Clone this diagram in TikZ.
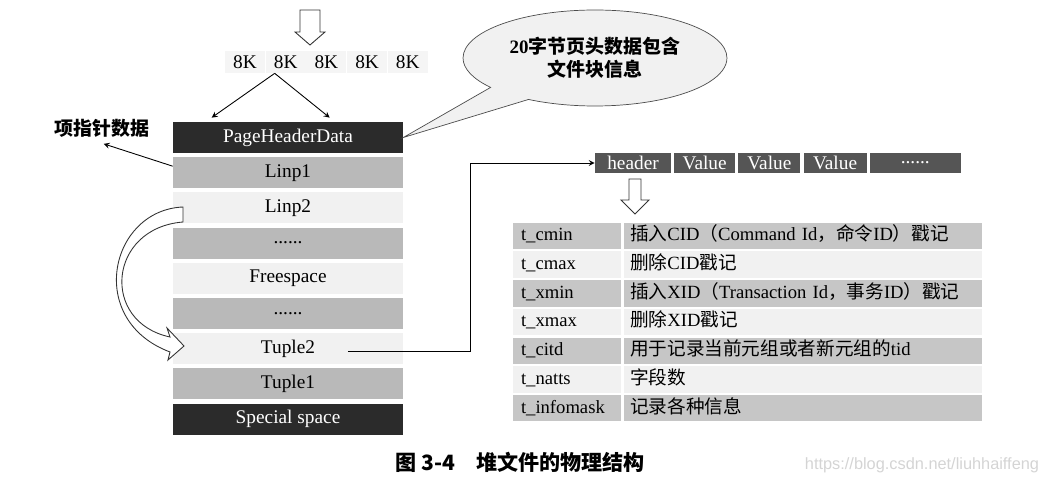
\documentclass[tikz,border=0pt]{standalone}
\usepackage{fontspec}
\setmainfont{Liberation Serif}
\setsansfont{Liberation Sans}
\newfontfamily\cjk{Noto Sans CJK SC}
\usetikzlibrary{positioning, shapes.callouts, arrows}

\definecolor{darkfill}{HTML}{2B2B2B}
\definecolor{grayfill}{HTML}{B9B9B9}
\definecolor{lightfill}{HTML}{F1F1F1}
\definecolor{valuefill}{HTML}{555555}
\definecolor{tablegray}{HTML}{C6C6C6}
\definecolor{marktext}{HTML}{D4D4D4}

\newcommand{\zh}[1]{{\cjk #1}}

\tikzstyle{row} = [rectangle, minimum width=4.6cm, minimum height=0.62cm, inner sep=0pt, text centered, font=\fontsize{11pt}{13pt}\selectfont]
\tikzstyle{darkrow} = [row, fill=darkfill, text=white]
\tikzstyle{grayrow} = [row, fill=grayfill]
\tikzstyle{lightrow} = [row, fill=lightfill]
\tikzstyle{kblock} = [rectangle, minimum width=0.8cm, minimum height=0.44cm, inner sep=0pt, fill=gray!8, font=\fontsize{11pt}{13pt}\selectfont]
\tikzstyle{valbox} = [rectangle, minimum height=0.4cm, inner sep=0pt, fill=valuefill, text=white, font=\fontsize{11pt}{13pt}\selectfont]
\tikzstyle{cell} = [rectangle, minimum height=0.53cm, inner ysep=0pt, align=left, text height=8pt, text depth=2.5pt, font=\fontsize{10.6pt}{13pt}\selectfont]
\tikzstyle{keycell} = [cell, text width=1.84cm, inner xsep=0.16cm]
\tikzstyle{desccell} = [cell, text width=6.9cm, inner xsep=0.13cm]
\tikzstyle{arrow} = [->, >=stealth, line width=0.5pt]
\tikzstyle{hollow} = [draw=black!80, fill=white, line width=0.5pt, line join=miter]

\begin{document}
\begin{tikzpicture}[x=0.02cm, y=-0.02cm]
\path[use as bounding box] (0,0) rectangle (1044,482);

% Page layout
\node (phd) [darkrow] at (288,137.5) {PageHeaderData};
\node (linp1) [grayrow, below=0.07cm of phd] {Linp1};
\node (linp2) [lightrow, below=0.07cm of linp1] {Linp2};
\node (dots1) [grayrow, below=0.07cm of linp2] {......};
\node (free) [lightrow, below=0.07cm of dots1] {Freespace};
\node (dots2) [grayrow, below=0.07cm of free] {......};
\node (tuple2) [lightrow, below=0.07cm of dots2] {Tuple2};
\node (tuple1) [grayrow, below=0.07cm of tuple2] {Tuple1};
\node (special) [darkrow, below=0.07cm of tuple1] {Special space};

% Blocks
\node (k1) [kblock] at (245,62) {8K};
\node (k2) [kblock, right=0cm of k1] {8K};
\node (k3) [kblock, right=0cm of k2] {8K};
\node (k4) [kblock, right=0cm of k3] {8K};
\node (k5) [kblock, right=0cm of k4] {8K};
\draw [hollow] (300,10) -- (320,10) -- (320,32) -- (325,32) -- (310,45) -- (295,32) -- (300,32) -- cycle;

% Labels
\node (ptr) [font=\cjk\bfseries\fontsize{10.8pt}{13pt}\selectfont] at (102,128) {项指针数据};
\node (bubble) [ellipse callout, draw=black!70, fill=lightfill, minimum width=5.28cm, minimum height=1.92cm, inner sep=0pt, align=center, callout absolute pointer={(phd.east)}, callout pointer arc=22, font=\bfseries\fontsize{10.8pt}{13pt}\selectfont] at (595,58) {20\zh{字节页头数据包含}\\\zh{文件块信息}};

% Tuple header
\node (hdr) [valbox, minimum width=1.52cm] at (633,163) {header};
\node (val1) [valbox, minimum width=1.22cm, right=0.05cm of hdr] {Value};
\node (val2) [valbox, minimum width=1.24cm, right=0.05cm of val1] {Value};
\node (val3) [valbox, minimum width=1.26cm, right=0.05cm of val2] {Value};
\node (more) [valbox, minimum width=1.82cm, right=0.05cm of val3] {......};
\draw [hollow] (629,179) -- (641,179) -- (641,200) -- (649,200) -- (635,214) -- (621,200) -- (629,200) -- cycle;

% Header fields
\node (kcmin) [keycell, fill=tablegray] at (567,236) {t\_cmin};
\node (dcmin) [desccell, fill=tablegray, right=0.04cm of kcmin] {\mbox{\zh{插入}CID\zh{（}Command Id\zh{，命令}ID\zh{）戳记}}};
\node (kcmax) [keycell, fill=lightfill, below=0.03cm of kcmin] {t\_cmax};
\node (dcmax) [desccell, fill=lightfill, right=0.04cm of kcmax] {\zh{删除}CID\zh{戳记}};
\node (kxmin) [keycell, fill=tablegray, below=0.03cm of kcmax] {t\_xmin};
\node (dxmin) [desccell, fill=tablegray, right=0.04cm of kxmin] {\mbox{\zh{插入}XID\zh{（}Transaction Id\zh{，事务}ID\zh{）戳记}}};
\node (kxmax) [keycell, fill=lightfill, below=0.03cm of kxmin] {t\_xmax};
\node (dxmax) [desccell, fill=lightfill, right=0.04cm of kxmax] {\zh{删除}XID\zh{戳记}};
\node (kcitd) [keycell, fill=tablegray, below=0.03cm of kxmax] {t\_citd};
\node (dcitd) [desccell, fill=tablegray, right=0.04cm of kcitd] {\zh{用于记录当前元组或者新元组的}tid};
\node (knatts) [keycell, fill=lightfill, below=0.03cm of kcitd] {t\_natts};
\node (dnatts) [desccell, fill=lightfill, right=0.04cm of knatts] {\zh{字段数}};
\node (kmask) [keycell, fill=tablegray, below=0.03cm of knatts] {t\_infomask};
\node (dmask) [desccell, fill=tablegray, right=0.04cm of kmask] {\zh{记录各种信息}};

% Arrows
\draw [arrow] ([xshift=-0.22cm]k2.south) -- ([xshift=0.78cm, yshift=0.08cm]phd.north west);
\draw [arrow] ([xshift=-0.22cm]k2.south) -- ([xshift=3.14cm, yshift=0.08cm]phd.north west);
\draw [arrow, shorten >=1pt] ([yshift=0.13cm]linp1.west) -- (ptr.south);
\draw [hollow] (183,207) .. controls (110,210) and (85,320) .. (170,352) -- (168,360) -- (184,346) -- (167,328) -- (170,337) .. controls (100,322) and (108,228) .. (183,222) -- cycle;
\draw [arrow] ([xshift=1.2cm, yshift=-0.06cm]tuple2.center) -- ++(122,0) |- (hdr.west);

% Caption
\node (caption) [font=\cjk\bfseries\fontsize{12pt}{14pt}\selectfont] at (520,462) {图 3-4\hspace{1em}堆文件的物理结构};
\node (mark) [font=\sffamily\fontsize{9.3pt}{11pt}\selectfont, text=marktext] at (922,465) {https://blog.csdn.net/liuhhaiffeng};

\end{tikzpicture}
\end{document}
